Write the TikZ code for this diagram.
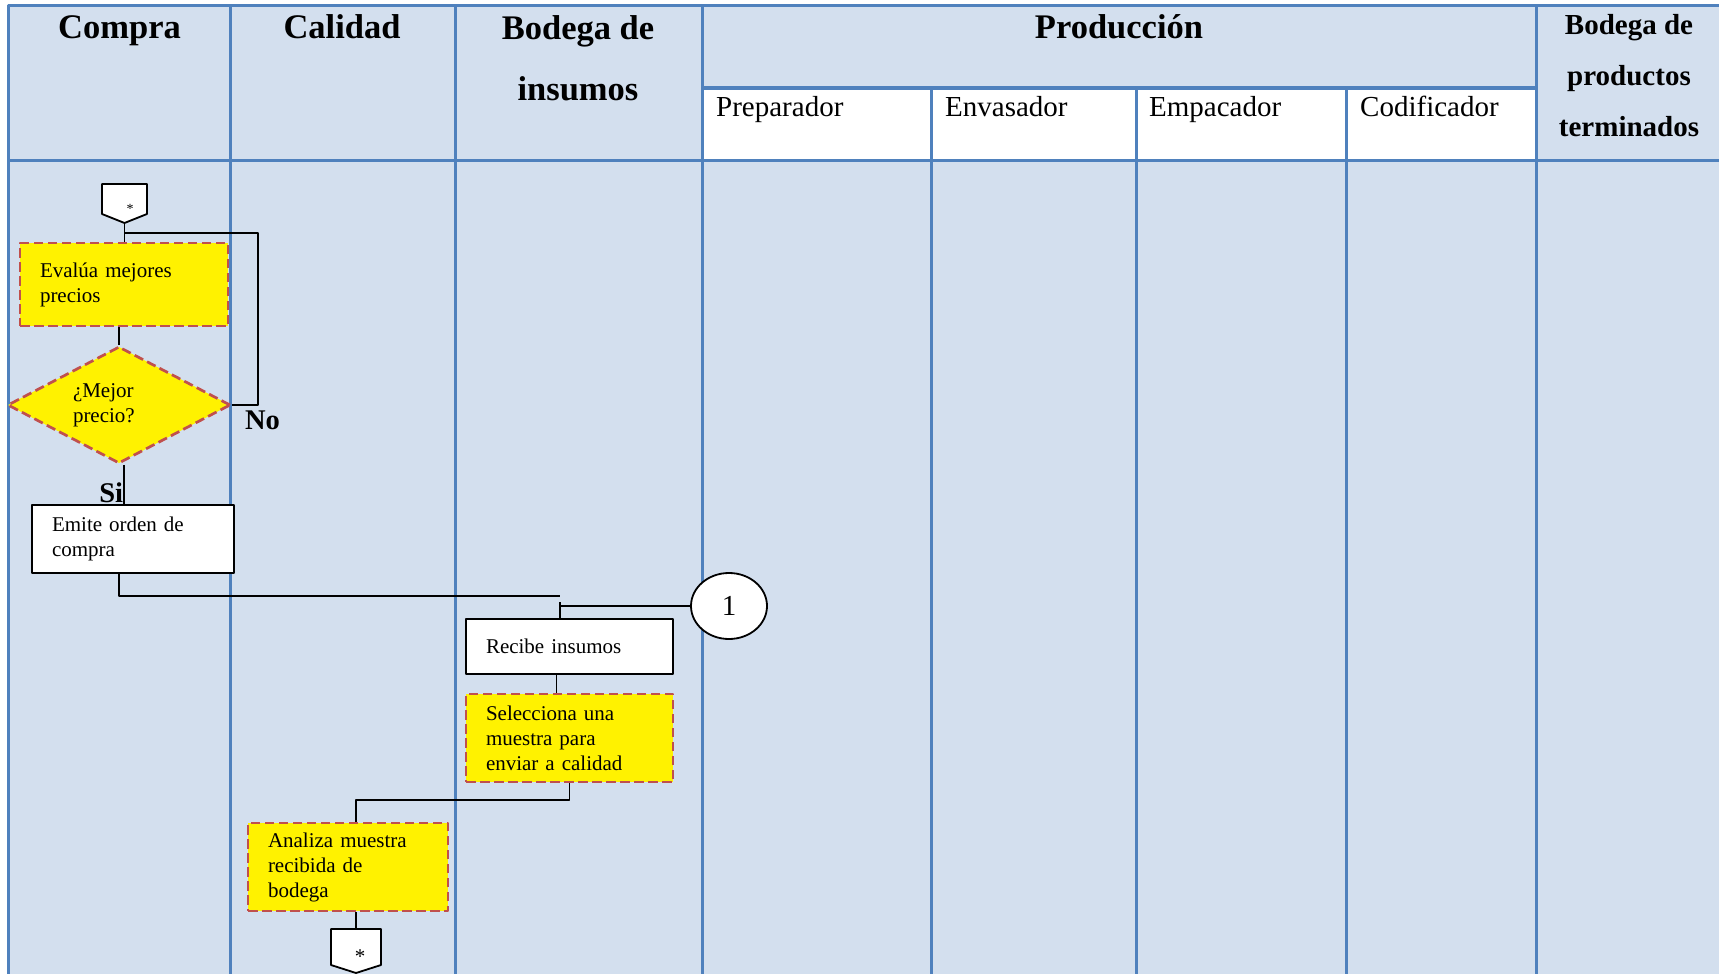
\documentclass[tikz,border=0pt]{standalone}
\usepackage{fontspec}
\setmainfont{Liberation Serif}
\usetikzlibrary{shapes.geometric,calc}
\definecolor{fondo}{HTML}{D3DFEE}
\definecolor{linea}{HTML}{4F81BD}
\definecolor{borde}{HTML}{C0504D}
\begin{document}
\begin{tikzpicture}[x=1pt,y=-1pt,line join=round,
	tabla/.style={draw=linea,line width=3pt},
	tit/.style={font=\fontsize{34.5}{61}\selectfont\bfseries,inner sep=0pt,align=center},
	rol/.style={font=\fontsize{29}{34}\selectfont,inner sep=0pt,anchor=base west},
	proc/.style={draw=black,line width=1.8pt,fill=white,inner xsep=20pt,inner ysep=0pt,align=left,font=\fontsize{21}{25}\selectfont},
	activ/.style={proc,fill=yellow,draw=borde,line width=2.7pt,dash pattern=on 9.5pt off 4.5pt},
	flujo/.style={draw=black,line width=1.9pt},
	resp/.style={font=\fontsize{28.5}{34}\selectfont\bfseries,inner sep=0pt},
	pent/.style={draw=black,line width=1.8pt,fill=white}]
	\useasboundingbox (0,0) rectangle (1719,974);
	% tabla de carriles
	\fill[fondo] (8.8,5.5) rectangle (1719,974);
	\fill[white] (702,88) rectangle (1536,160);
	\draw[tabla] (8.8,974) -- (8.8,5.5) -- (1719,5.5);
	\draw[tabla] (8.8,160) -- (1719,160) (702,88) -- (1536,88);
	\foreach \x in {230,455,702,1536} \draw[tabla] (\x,5.5) -- (\x,974);
	\foreach \x in {931,1136,1346} \draw[tabla] (\x,88) -- (\x,974);
	% encabezados
	\node[tit,anchor=base] (compra) at (119.5,39) {Compra};
	\node[tit,anchor=base] (calidad) at (342,39) {Calidad};
	\node[tit,anchor=north] (bodega) at (578,15.5) {Bodega de\\insumos};
	\node[tit,anchor=base] (produc) at (1119,39) {Producción};
	\node[tit,anchor=north,font=\fontsize{29}{51}\selectfont\bfseries] (bodegapt) at (1629,14) {Bodega de\\productos\\terminados};
	\foreach \t/\x in {Preparador/716,Envasador/945,Empacador/1149,Codificador/1360}
		\node[rol] (r-\t) at (\x,116) {\t};
	% conectores de pagina
	\draw[pent] (102,184) -- (147,184) -- (147,214) -- (124.5,223) coordinate (ini) -- (102,214) -- cycle;
	\node[font=\fontsize{14}{14}\selectfont,inner sep=0pt] (ini-t) at (130,209) {*};
	\coordinate (fin) at (356,929);
	\draw[pent] (331,929) -- (381,929) -- (381,965) -- (356,973) -- (331,965) -- cycle;
	\node[font=\fontsize{21}{21}\selectfont,inner sep=0pt] (fin-t) at (360,957) {*};
	% actividades
	\node[activ,text width=168pt,minimum height=83pt] (evalua) at (124,284.5) {Evalúa mejores\\precios};
	\node[activ,diamond,inner sep=0pt,aspect=1.9,minimum width=223pt,minimum height=117pt,text width=92pt] (dec) at (119,405) {¿Mejor\\precio?};
	\node[proc,text width=162pt,minimum height=68pt] (emite) at (133,539) {Emite orden de\\compra};
	\node[proc,text width=167pt,minimum height=55pt] (recibe) at (569.5,646.5) {Recibe insumos};
	\node[activ,text width=167pt,minimum height=88pt] (selec) at (569.5,738) {Selecciona una\\muestra para\\enviar a calidad};
	\node[activ,text width=160pt,minimum height=88pt] (analiza) at (348,867) {Analiza muestra\\recibida de\\bodega};
	\node[draw,line width=1.8pt,fill=white,ellipse,minimum width=76pt,minimum height=66pt,inner sep=0pt,font=\fontsize{29}{34}\selectfont] (uno) at (729,606) {1};
	% flujo
	\coordinate (lazo) at (258,233);
	\draw[flujo] (ini) -- (ini |- evalua.north);
	\draw[flujo] (dec.north |- evalua.south) -- (dec.north);
	\draw[flujo] (dec.east) -| (lazo) -- (lazo -| ini);
	\node[resp,anchor=base west] (no) at ([xshift=13pt,yshift=-24pt]dec.east) {No};
	\draw[flujo] ([xshift=5pt]dec.south) -- ([xshift=5pt]dec.south |- emite.north) node[resp,anchor=base east,pos=1,yshift=2pt] (si) {Si};
	\coordinate (union) at (560,596);
	\draw[flujo] (dec.south |- emite.south) |- (union);
	\draw[flujo] ([yshift=-6pt]union) -- (union |- recibe.north);
	\draw[flujo] (uno.west) -- (uno.west -| union);
	\draw[flujo] ([xshift=-13pt]recibe.south) -- ([xshift=-13pt]selec.north);
	\draw[flujo] (selec.south) -- ++(0,17) -| (fin |- analiza.north);
	\draw[flujo] (fin |- analiza.south) -- (fin);
\end{tikzpicture}
\end{document}
